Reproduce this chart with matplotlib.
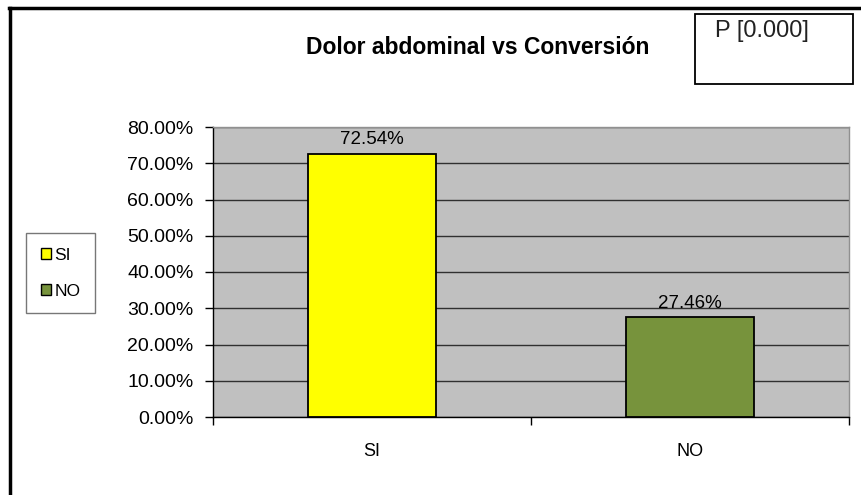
import matplotlib
matplotlib.use("Agg")
import matplotlib.pyplot as plt
from matplotlib.lines import Line2D
from matplotlib.patches import Patch, Rectangle

categories = ["SI", "NO"]
values = [72.54, 27.46]
bar_colors = ["#FFFF00", "#77933C"]
yticks = [0, 10, 20, 30, 40, 50, 60, 70, 80]
title = "Dolor abdominal vs Conversión"
ptext = "P [0.000]"

plt.rcParams['font.family'] = ['Liberation Sans', 'DejaVu Sans']

W, H = 862, 495
fig = plt.figure(figsize=(W / 100, H / 100), dpi=100)
fig.patch.set_facecolor("white")

ax = fig.add_axes([213 / W, 1 - 417 / H, (849 - 213) / W, (417 - 127) / H])
ax.set_facecolor("#C0C0C0")
x = list(range(len(categories)))
ax.bar(x, values, width=0.4, color=bar_colors, edgecolor="black", linewidth=1.3, zorder=3)
ax.set_xlim(-0.5, len(categories) - 0.5)
ax.set_ylim(0, 80)
ax.set_yticks(yticks)
ax.set_yticklabels([f"{v:.2f}%" for v in yticks])
ax.yaxis.grid(True, color="#303030", linewidth=1.0, zorder=1)
ax.set_axisbelow(True)
ax.set_xticks(x)
ax.set_xticklabels(categories)
ax.set_xticks([i - 0.5 for i in range(len(categories) + 1)], minor=True)
ax.tick_params(axis="x", which="major", length=0, pad=19, labelsize=13)
ax.tick_params(axis="x", which="minor", length=6, width=1, color="black")
ax.tick_params(axis="y", length=6, width=1, labelsize=14, pad=8)
for s in ["left", "bottom"]:
    ax.spines[s].set_color("black")
    ax.spines[s].set_linewidth(1.0)
for s in ["top", "right"]:
    ax.spines[s].set_color("#909090")
    ax.spines[s].set_linewidth(1.0)

for xi, v in zip(x, values):
    ax.annotate(f"{v:.2f}%", (xi, v), xytext=(0, 4), textcoords="offset points",
                ha="center", va="bottom", fontsize=13.5, zorder=4)

fig.text(478 / W, 1 - 47 / H, title, ha="center", va="center", fontsize=16.5, fontweight="bold")

# P box
fig.patches.append(Rectangle((695 / W, 1 - 84 / H), (853 - 695) / W, (84 - 14) / H,
                             transform=fig.transFigure, facecolor="white", edgecolor="black",
                             linewidth=1.3))
fig.text(715 / W, 1 - 31 / H, ptext, ha="left", va="center", fontsize=17, color="#222222")

# legend
handles = [Patch(facecolor=c, edgecolor="black", label=l) for c, l in zip(bar_colors, categories)]
leg = fig.legend(handles=handles, loc="upper left", bbox_to_anchor=(26 / W, 1 - 233 / H),
                 bbox_transform=fig.transFigure, frameon=True, fancybox=False, fontsize=12.5,
                 handlelength=0.6, handleheight=0.6, handletextpad=0.2, labelspacing=1.2,
                 borderpad=0.85, borderaxespad=0)
leg.get_frame().set_edgecolor("#555555")
leg.get_frame().set_linewidth(1.0)

# outer frame (left and top)
fig.add_artist(Line2D([10 / W, 10 / W], [0, 1 - 8 / H], transform=fig.transFigure,
                      color="black", linewidth=2.5))
fig.add_artist(Line2D([9 / W, 1], [1 - 8 / H, 1 - 8 / H], transform=fig.transFigure,
                      color="black", linewidth=2.5))

fig.savefig("out.png", dpi=100)
